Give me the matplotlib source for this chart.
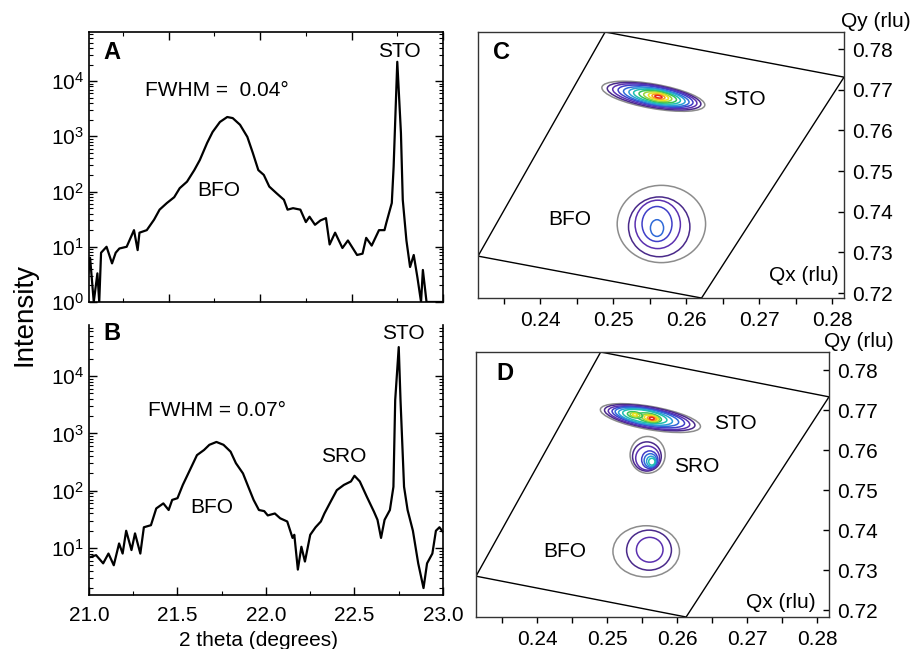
import matplotlib
matplotlib.use("Agg")
import matplotlib.pyplot as plt
from matplotlib.patches import Ellipse, Polygon
from matplotlib.transforms import Affine2D
from matplotlib.ticker import MultipleLocator, LogLocator, NullFormatter, FormatStrFormatter

plt.rcParams['font.family'] = ['Liberation Sans', 'DejaVu Sans']
plt.rcParams['mathtext.fontset'] = 'custom'
plt.rcParams['mathtext.rm'] = 'Liberation Sans'
plt.rcParams['mathtext.it'] = 'Liberation Sans:italic'
plt.rcParams['mathtext.bf'] = 'Liberation Sans:bold'

# ---- theta-2theta scans ----
two_theta_a = [21.06, 21.07, 21.09, 21.11, 21.12, 21.13, 21.16, 21.19, 21.21, 21.23,
               21.27, 21.31, 21.33, 21.34, 21.38, 21.42, 21.45, 21.49, 21.53, 21.56,
               21.60, 21.64, 21.67, 21.71, 21.74, 21.78, 21.82, 21.85, 21.89, 21.93,
               21.96, 21.99, 22.02, 22.05, 22.09, 22.13, 22.15, 22.18, 22.22, 22.25,
               22.27, 22.30, 22.33, 22.36, 22.38, 22.41, 22.45, 22.48, 22.53, 22.56,
               22.58, 22.61, 22.65, 22.68, 22.69, 22.72, 22.73, 22.75, 22.77, 22.78,
               22.80, 22.82, 22.84, 22.86, 22.88, 22.89, 22.91, 23.00]
counts_a = [3.3, 6.3, 1.0, 3.3, 1.0, 7.8, 10, 5.0, 7.8, 9.3,
            10, 20, 8.7, 18, 20, 31, 47, 62, 79, 115,
            151, 245, 372, 759, 1200, 1820, 2240, 2140, 1620, 977,
            500, 245, 200, 123, 93, 71, 47, 50, 47, 28,
            35, 25, 30, 33, 11, 18, 9.5, 13, 7.1, 7.5,
            14.5, 10.5, 20, 20, 27, 62, 280, 22400, 1150, 71,
            13, 4.3, 7.1, 2.8, 1.0, 3.8, 1.0, 1.0]

two_theta_b = [21.01, 21.04, 21.08, 21.11, 21.14, 21.17, 21.19, 21.21, 21.24, 21.26,
               21.29, 21.31, 21.35, 21.38, 21.42, 21.45, 21.47, 21.50, 21.53, 21.57,
               21.61, 21.65, 21.68, 21.72, 21.76, 21.80, 21.83, 21.87, 21.90, 21.93,
               21.96, 21.99, 22.01, 22.05, 22.08, 22.12, 22.15, 22.16, 22.18, 22.20,
               22.22, 22.25, 22.28, 22.31, 22.33, 22.36, 22.40, 22.44, 22.48, 22.50,
               22.53, 22.57, 22.61, 22.63, 22.65, 22.67, 22.70, 22.72, 22.73, 22.75,
               22.76, 22.78, 22.80, 22.83, 22.86, 22.89, 22.91, 22.94, 22.96, 22.98,
               23.00]
counts_b = [7.0, 7.5, 5.4, 8.0, 5.0, 12, 8.0, 20, 9.2, 18,
            8.0, 23, 25, 49, 60, 46, 69, 74, 126, 229,
            417, 513, 631, 708, 631, 479, 302, 200, 117, 69,
            46, 44, 37, 40, 33, 29, 15, 17, 4.2, 10.5,
            5.8, 17, 23, 29, 40, 60, 102, 126, 145, 182,
            145, 78, 43, 31, 15, 31, 46, 117, 3800, 32000,
            3800, 117, 46, 20, 5.4, 2.0, 5.4, 8.0, 20, 23,
            19]

# ---- reciprocal space maps: contour rings, outermost first ----
# width along the long axis in Qx units, thickness in Qy units
level_colors = ['#8c8c8c', '#4a2a8a', '#5b30b0', '#3f3fc8', '#2f6ad8', '#2a9ed6',
                '#1fbfb0', '#38c25a', '#9bd43a', '#eee21e', '#f7a21e', '#e8281c']

sto_c_level = [0, 1, 2, 3, 4, 5, 6, 7, 8, 9, 10, 11]
sto_c_qx = [0.2555, 0.2556, 0.2557, 0.2558, 0.2559, 0.2560, 0.2560, 0.2561, 0.2561, 0.2562, 0.2562, 0.2562]
sto_c_qy = [0.7684, 0.7684, 0.7684, 0.7684, 0.7683, 0.7683, 0.7683, 0.7683, 0.7683, 0.7683, 0.7683, 0.7683]
sto_c_w = [0.0143, 0.0130, 0.0117, 0.0104, 0.0091, 0.0078, 0.0065, 0.0052, 0.0039, 0.0028, 0.0018, 0.0010]
sto_c_h = [0.0060, 0.0055, 0.0050, 0.0045, 0.0040, 0.0036, 0.0031, 0.0026, 0.0021, 0.0016, 0.0011, 0.0006]

bfo_c_level = [0, 1, 2, 3, 4]
bfo_c_qx = [0.2566, 0.2563, 0.2561, 0.2560, 0.2560]
bfo_c_qy = [0.7370, 0.7363, 0.7369, 0.7370, 0.7360]
bfo_c_w = [0.0121, 0.0084, 0.0062, 0.0041, 0.0018]
bfo_c_h = [0.0190, 0.0147, 0.0119, 0.0086, 0.0041]

sto_d_level = [0, 1, 2, 3, 4, 5, 6, 7, 8, 9, 10, 11, 7, 8, 9]
sto_d_qx = [0.2562, 0.2561, 0.2560, 0.2559, 0.2557, 0.2555, 0.2554, 0.2560, 0.2562, 0.2563,
            0.2564, 0.2564, 0.2540, 0.2540, 0.2540]
sto_d_qy = [0.7680, 0.7681, 0.7681, 0.7682, 0.7683, 0.7683, 0.7684, 0.7681, 0.7680, 0.7680,
            0.7679, 0.7679, 0.7688, 0.7688, 0.7688]
sto_d_w = [0.0145, 0.0131, 0.0118, 0.0105, 0.0092, 0.0078, 0.0064, 0.0036, 0.0026, 0.0020,
           0.0013, 0.0007, 0.0022, 0.0014, 0.0007]
sto_d_h = [0.0058, 0.0053, 0.0048, 0.0043, 0.0039, 0.0035, 0.0030, 0.0022, 0.0017, 0.0013,
           0.0009, 0.0006, 0.0015, 0.0010, 0.0006]

sro_d_level = [0, 1, 2, 3, 4, 5, 6]
sro_d_qx = [0.2558, 0.2557, 0.2558, 0.2561, 0.2562, 0.2563, 0.2564]
sro_d_qy = [0.7588, 0.7584, 0.7580, 0.7576, 0.7574, 0.7572, 0.7571]
sro_d_w = [0.0050, 0.0041, 0.0034, 0.0023, 0.0018, 0.0013, 0.0009]
sro_d_h = [0.0092, 0.0073, 0.0060, 0.0044, 0.0034, 0.0025, 0.0017]

bfo_d_level = [0, 1, 2]
bfo_d_qx = [0.2556, 0.2560, 0.2561]
bfo_d_qy = [0.7347, 0.7350, 0.7351]
bfo_d_w = [0.0095, 0.0064, 0.0038]
bfo_d_h = [0.0128, 0.0100, 0.0062]

# scan range boundaries (corners, rlu)
scan_c_qx = [0.2489, 0.2816, 0.2621, 0.2315]
scan_c_qy = [0.7842, 0.7731, 0.7188, 0.7291]
scan_d_qx = [0.2491, 0.2817, 0.2613, 0.2313]
scan_d_qy = [0.7845, 0.7733, 0.7183, 0.7285]

FS = 15


def xrd_axes(ax, x, y, ylo, xlo):
    ax.plot(x, y, color='black', lw=1.6)
    ax.set_yscale('log')
    ax.set_xlim(xlo, 23.0)
    ax.set_ylim(ylo, 10 ** 4.89)
    ax.yaxis.set_major_locator(LogLocator(base=10, numticks=10))
    ax.yaxis.set_minor_locator(LogLocator(base=10, subs=range(2, 10), numticks=20))
    ax.yaxis.set_minor_formatter(NullFormatter())
    ax.xaxis.set_major_locator(MultipleLocator(0.5))
    ax.xaxis.set_minor_locator(MultipleLocator(0.25))
    ax.tick_params(which='both', direction='in', labelsize=FS, left=True, right=True)
    ax.tick_params(which='major', length=6, width=1)
    ax.tick_params(which='minor', length=3, width=0.8)
    for s in ax.spines.values():
        s.set_linewidth(1.2)


def rsm_axes(ax, xlim, ylim, scan_qx, scan_qy):
    ax.set_xlim(*xlim)
    ax.set_ylim(*ylim)
    ax.add_patch(Polygon(list(zip(scan_qx, scan_qy)), closed=True, fill=False,
                         edgecolor='black', lw=1.0))
    ax.xaxis.set_major_locator(MultipleLocator(0.01))
    ax.xaxis.set_minor_locator(MultipleLocator(0.005))
    ax.xaxis.set_major_formatter(FormatStrFormatter('%.2f'))
    ax.yaxis.set_major_locator(MultipleLocator(0.01))
    ax.yaxis.set_major_formatter(FormatStrFormatter('%.2f'))
    ax.yaxis.tick_right()
    ax.tick_params(axis='x', which='both', direction='out', length=4, width=1, labelsize=FS, pad=5)
    ax.tick_params(axis='y', which='both', direction='in', length=4, width=1, labelsize=FS,
                   left=False, right=True, pad=6)
    for s in ax.spines.values():
        s.set_linewidth(1.0)
        s.set_color('#333333')


def draw_peak(ax, level, qx, qy, w, h, tilt):
    # draw in a frame where one Qx unit and one (rescaled) Qy unit have the same length on screen,
    # so the tilt is the visual one
    x0, y0 = ax.transData.transform((0.25, 0.75))
    x1, y1 = ax.transData.transform((0.26, 0.76))
    k = (y1 - y0) / (x1 - x0)
    tr = Affine2D().scale(1, 1 / k) + ax.transData
    for lv, cx, cy, ww, hh in zip(level, qx, qy, w, h):
        ax.add_patch(Ellipse((cx, cy * k), ww, hh * k, angle=tilt, fill=False, transform=tr,
                             edgecolor=level_colors[lv], lw=1.1))


fig = plt.figure(figsize=(9.1, 6.49), dpi=100)
ax_a = fig.add_axes([0.0978, 0.5347, 0.389, 0.416])
ax_b = fig.add_axes([0.0978, 0.0832, 0.389, 0.416])
ax_c = fig.add_axes([0.5253, 0.5408, 0.4022, 0.4099])
ax_d = fig.add_axes([0.5231, 0.0493, 0.3879, 0.4083])

# panel A
xrd_axes(ax_a, two_theta_a, counts_a, 1.0, 21.064)
ax_a.tick_params(axis='x', which='both', top=True, labelbottom=False)
ax_a.text(0.04, 0.925, 'A', transform=ax_a.transAxes, fontsize=17, fontweight='bold', va='center')
ax_a.text(21.763, 6650, 'FWHM =  0.04°', fontsize=FS, ha='center', va='center')
ax_a.text(21.775, 103, 'BFO', fontsize=FS, ha='center', va='center')
ax_a.text(22.76, 34000, 'STO', fontsize=FS, ha='center', va='center')

# panel B
xrd_axes(ax_b, two_theta_b, counts_b, 10 ** 0.18, 21.0)
ax_b.spines['top'].set_visible(False)
ax_b.tick_params(axis='x', which='both', top=False, pad=8)
ax_b.xaxis.set_major_formatter(FormatStrFormatter('%.1f'))
ax_b.text(0.04, 0.97, 'B', transform=ax_b.transAxes, fontsize=17, fontweight='bold', va='center')
ax_b.text(21.721, 2480, 'FWHM = 0.07°', fontsize=FS, ha='center', va='center')
ax_b.text(21.693, 51, 'BFO', fontsize=FS, ha='center', va='center')
ax_b.text(22.437, 402, 'SRO', fontsize=FS, ha='center', va='center')
ax_b.text(22.776, 55600, 'STO', fontsize=FS, ha='center', va='center')

fig.text(0.027, 1 - 314 / 649, 'Intensity', rotation=90, fontsize=20, ha='center', va='center')
fig.text(258.7 / 910, 1 - 640 / 649, '2 theta (degrees)', fontsize=FS, ha='center', va='center')

# panel C
rsm_axes(ax_c, (0.2315, 0.2816), (0.7188, 0.7842), scan_c_qx, scan_c_qy)
draw_peak(ax_c, sto_c_level, sto_c_qx, sto_c_qy, sto_c_w, sto_c_h, -10)
draw_peak(ax_c, bfo_c_level, bfo_c_qx, bfo_c_qy, bfo_c_w, bfo_c_h, 0)
ax_c.text(0.04, 0.924, 'C', transform=ax_c.transAxes, fontsize=17, fontweight='bold', va='center')
ax_c.text(0.2679, 0.7675, 'STO', fontsize=FS, ha='center', va='center')
ax_c.text(0.2441, 0.7380, 'BFO', fontsize=FS, ha='center', va='center')
ax_c.text(0.984, 0.083, 'Qx (rlu)', transform=ax_c.transAxes, fontsize=FS, ha='right', va='center')
ax_c.text(1.087, 1.038, 'Qy (rlu)', transform=ax_c.transAxes, fontsize=FS, ha='center', va='center')

# panel D
rsm_axes(ax_d, (0.2313, 0.2817), (0.7183, 0.7845), scan_d_qx, scan_d_qy)
draw_peak(ax_d, sto_d_level, sto_d_qx, sto_d_qy, sto_d_w, sto_d_h, -10)
draw_peak(ax_d, sro_d_level, sro_d_qx, sro_d_qy, sro_d_w, sro_d_h, 0)
draw_peak(ax_d, bfo_d_level, bfo_d_qx, bfo_d_qy, bfo_d_w, bfo_d_h, 0)
ax_d.text(0.057, 0.92, 'D', transform=ax_d.transAxes, fontsize=17, fontweight='bold', va='center')
ax_d.text(0.2683, 0.7667, 'STO', fontsize=FS, ha='center', va='center')
ax_d.text(0.2628, 0.7558, 'SRO', fontsize=FS, ha='center', va='center')
ax_d.text(0.2440, 0.7346, 'BFO', fontsize=FS, ha='center', va='center')
ax_d.text(0.963, 0.053, 'Qx (rlu)', transform=ax_d.transAxes, fontsize=FS, ha='right', va='center')
ax_d.text(1.085, 1.038, 'Qy (rlu)', transform=ax_d.transAxes, fontsize=FS, ha='center', va='center')

fig.savefig('out.png', dpi=100)
